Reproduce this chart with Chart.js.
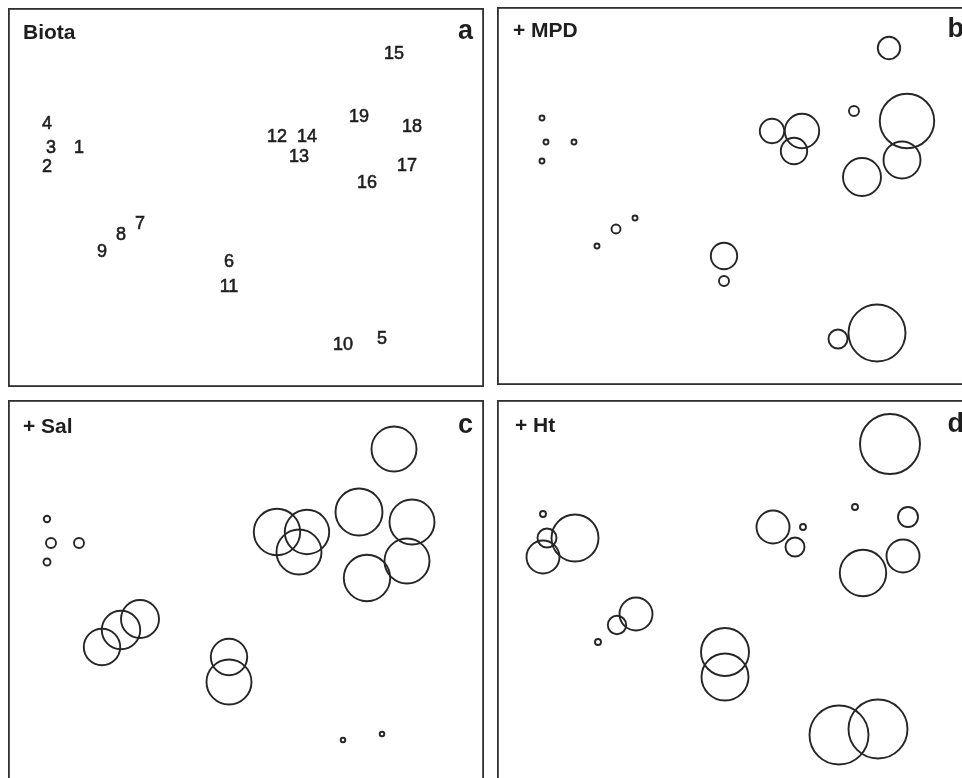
<!DOCTYPE html>
<html>
<head>
<meta charset="utf-8">
<script src="https://cdn.jsdelivr.net/npm/chart.js@4"></script>
<style>
  html, body { margin: 0; padding: 0; background: #fff; overflow: hidden; }
  body { width: 962px; height: 778px; position: relative; }
  .panel { position: absolute; overflow: hidden; }
  .panel canvas { display: block; }
</style>
</head>
<body>
<div class="panel" id="wa"><canvas id="pa"></canvas></div>
<div class="panel" id="wb"><canvas id="pb"></canvas></div>
<div class="panel" id="wc"><canvas id="pc"></canvas></div>
<div class="panel" id="wd"><canvas id="pd"></canvas></div>
<script>
// ---- DATA (MDS ordination of 19 sites; bubble values per variable) ----
const siteLabels = ['1','2','3','4','5','6','7','8','9','10','11','12','13','14','15','16','17','18','19'];
const mdsX = [-1.67, -1.99, -1.95, -1.99, 1.36, -0.17, -1.06, -1.25, -1.44, 0.97, -0.17, 0.31, 0.53, 0.61, 1.48, 1.21, 1.61, 1.66, 1.13];
const mdsY = [0.54, 0.35, 0.54, 0.78, -1.37, -0.60, -0.22, -0.33, -0.50, -1.43, -0.85, 0.65, 0.45, 0.65, 1.48, 0.19, 0.36, 0.75, 0.85];
const mpdValues = [2.5, 2.5, 2.5, 2.5, 28.5, 13.2, 2.5, 4.5, 2.5, 9.5, 5, 12.2, 13.2, 17.2, 11.2, 19, 18.5, 27.2, 5];
const salValues = [5, 3.5, 5, 3.2, 2.3, 18.2, 19, 19.2, 18.2, 2.3, 22.5, 23.2, 22.5, 22.2, 22.5, 23.2, 22.5, 22.5, 23.5];
const htValues  = [23.5, 16.5, 9.5, 3, 29.5, 24, 16.5, 9.2, 3, 29.5, 23.5, 16.5, 9.5, 3, 30, 23.2, 16.5, 10, 3];
const panelTitles = ['Biota', '+ MPD', '+ Sal', '+ Ht'];
const panelLetters = ['a', 'b', 'c', 'd'];

// ---- LAYOUT ----
const FONT = "'Liberation Sans', Arial, Helvetica, sans-serif";
const INK = '#262626';
const panels = [
  { wrap: 'wa', id: 'pa', left: 8,   top: 8,   w: 476, h: 379, xr: [-2.38, 2.38], yr: [-1.87, 1.92], values: null,      tdy: 31, tdx: 15 },
  { wrap: 'wb', id: 'pb', left: 497, top: 7,   w: 478, h: 378, xr: [-2.44, 2.34], yr: [-1.89, 1.89], values: mpdValues, tdy: 30, tdx: 16 },
  { wrap: 'wc', id: 'pc', left: 8,   top: 400, w: 476, h: 380, xr: [-2.38, 2.38], yr: [-1.83, 1.97], values: salValues, tdy: 33, tdx: 15 },
  { wrap: 'wd', id: 'pd', left: 497, top: 400, w: 478, h: 380, xr: [-2.45, 2.33], yr: [-1.88, 1.92], values: htValues,  tdy: 32, tdx: 18 }
];
const BUBBLE_SCALE = 1; // bubble radius per unit of value

const framePlugin = {
  id: 'frame',
  beforeDraw(chart) {
    const ctx = chart.ctx;
    ctx.save();
    ctx.fillStyle = '#fff';
    ctx.fillRect(0, 0, chart.width, chart.height);
    ctx.restore();
  },
  afterDraw(chart, args, opts) {
    const ctx = chart.ctx, a = chart.chartArea;
    ctx.save();
    ctx.strokeStyle = '#303030';
    ctx.lineWidth = 1.8;
    ctx.strokeRect(a.left + 0.9, a.top + 0.9, a.right - a.left - 1.8, a.bottom - a.top - 1.8);
    ctx.fillStyle = '#1e1e1e';
    ctx.textBaseline = 'alphabetic';
    ctx.font = 'bold 21px ' + FONT;
    ctx.textAlign = 'left';
    ctx.fillText(opts.title, a.left + opts.tdx, a.top + opts.tdy);
    ctx.font = 'bold 27px ' + FONT;
    ctx.textAlign = 'right';
    ctx.fillText(opts.letter, a.right - 11, a.top + opts.tdy);
    // site number labels (panel a)
    if (opts.showLabels) {
      const meta = chart.getDatasetMeta(0);
      ctx.font = '18px ' + FONT;
      ctx.textAlign = 'center';
      ctx.strokeStyle = '#1e1e1e';
      ctx.lineWidth = 0.6;
      meta.data.forEach((el, i) => {
        ctx.fillText(siteLabels[i], el.x, el.y + 6.5);
        ctx.strokeText(siteLabels[i], el.x, el.y + 6.5);
      });
    }
    ctx.restore();
  }
};

panels.forEach((p, k) => {
  const wr = document.getElementById(p.wrap);
  wr.style.left = p.left + 'px'; wr.style.top = p.top + 'px';
  wr.style.width = p.w + 'px'; wr.style.height = p.h + 'px';
  const cv = document.getElementById(p.id);
  const pts = mdsX.map((x, i) => ({ x: x, y: mdsY[i], r: p.values ? p.values[i] * BUBBLE_SCALE : 0 }));
  new Chart(cv, {
    type: 'bubble',
    data: {
      datasets: [{
        data: pts,
        backgroundColor: 'rgba(0,0,0,0)',
        borderColor: INK,
        borderWidth: 1.9,
        hoverRadius: 0,
        clip: false
      }]
    },
    options: {
      responsive: true,
      maintainAspectRatio: false,
      animation: false,
      devicePixelRatio: 1,
      events: [],
      layout: { padding: 0, autoPadding: false },
      scales: {
        x: { type: 'linear', display: false, min: p.xr[0], max: p.xr[1] },
        y: { type: 'linear', display: false, min: p.yr[0], max: p.yr[1] }
      },
      plugins: {
        legend: { display: false },
        tooltip: { enabled: false },
        frame: { title: panelTitles[k], letter: panelLetters[k], tdy: p.tdy, tdx: p.tdx, showLabels: !p.values }
      }
    },
    plugins: [framePlugin]
  });
});
</script>
</body>
</html>
